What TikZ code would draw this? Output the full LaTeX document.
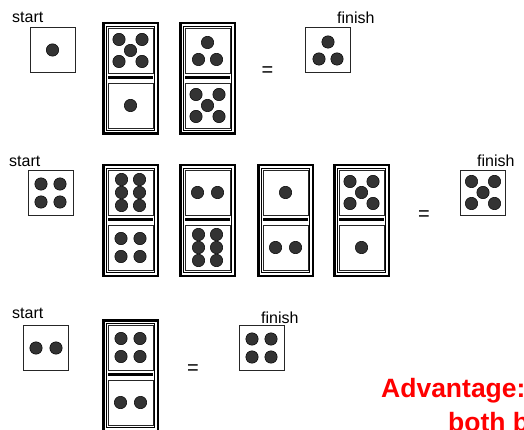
\documentclass[tikz,border=0pt]{standalone}
\usepackage{fontspec}
\setmainfont{Liberation Sans}
\definecolor{pipgray}{RGB}{51,51,51}
\definecolor{advred}{RGB}{255,0,0}
\tikzset{
  face/.style={draw=black!85, line width=0.9pt, minimum size=45pt, inner sep=0pt, fill=white},
  pip/.style={fill=pipgray, draw=black, line width=0.5pt},
  outerframe/.style={draw=black, line width=2.5pt},
  innerframe/.style={draw=black, line width=0.8pt},
  sepline/.style={draw=black, line width=2.2pt},
  lbl/.style={font=\fontsize{16}{18}\selectfont, inner sep=0pt, anchor=base west},
  eqsign/.style={font=\fontsize{20}{22}\selectfont, inner sep=0pt},
  adv/.style={font=\fontsize{26.5}{30}\selectfont\bfseries, text=advred, inner sep=0pt, anchor=base west},
}
\newcommand\dieface[4]{% name, cx, cy, pips
  \node[face] (#1) at (#2,#3) {};
  \begin{scope}[shift={(#1.center)}]
    \ifcase#4\or
      \path[pip] (0,0) circle[radius=6.2pt];
    \or
      \foreach \p in {(-10,0),(10,0)} \path[pip] \p circle[radius=6.2pt];
    \or
      \foreach \p in {(0,-8),(-9,9),(9,9)} \path[pip] \p circle[radius=6.2pt];
    \or
      \foreach \p in {(-9.5,-9),(9.5,-9),(-9.5,9),(9.5,9)} \path[pip] \p circle[radius=6.2pt];
    \or
      \foreach \p in {(-11.5,-11),(11.5,-11),(-11.5,11),(11.5,11),(0,0)} \path[pip] \p circle[radius=6.2pt];
    \or
      \foreach \p in {(-9,-13),(9,-13),(-9,0),(9,0),(-9,13),(9,13)} \path[pip] \p circle[radius=6.2pt];
    \fi
  \end{scope}}
\newcommand\domino[5]{% name, X, Y, top, bottom
  \path[outerframe] (#2+1.25,#3+1.25) rectangle (#2+55.75,#3+111.75);
  \path[innerframe] (#2+4.3,#3+4.3) rectangle (#2+52.7,#3+108.7);
  \dieface{#1t}{#2+28.5}{#3+28.5}{#4}
  \path[sepline] (#2+6,#3+55.5) -- (#2+51,#3+55.5);
  \dieface{#1b}{#2+28.5}{#3+83.5}{#5}}
\begin{document}
\begin{tikzpicture}[x=1pt,y=-1pt]
\useasboundingbox (0,0) rectangle (524,430);
\clip (0,0) rectangle (524,430);
% row 1
\node[lbl] (s1) at (12,23) {start};
\dieface{a0}{52.5}{50}{1}
\domino{a1}{102}{22}{5}{1}
\domino{a2}{179}{22}{3}{5}
\node[eqsign] (e1) at (267.5,72) {=};
\dieface{a3}{328}{50}{3}
\node[lbl] (f1) at (337,23.5) {finish};
% row 2
\node[lbl] (s2) at (9,167) {start};
\dieface{b0}{50.5}{193}{4}
\domino{b1}{102}{164}{6}{4}
\domino{b2}{179}{164}{2}{6}
\domino{b3}{257}{164}{1}{2}
\domino{b4}{333}{164}{5}{1}
\node[eqsign] (e2) at (424,216) {=};
\dieface{b5}{483}{192.5}{5}
\node[lbl] (f2) at (477,167) {finish};
% row 3
\node[lbl] (s3) at (12,318) {start};
\dieface{c0}{46}{348}{2}
\domino{c1}{102}{319}{4}{2}
\node[eqsign] (e3) at (193,370) {=};
\dieface{c2}{261.5}{348}{4}
\node[lbl] (f3) at (261,323) {finish};
% red text
\node[adv] (adv1) at (381,397.5) {Advantage:};
\node[adv] (adv2) at (448,431) {both b};
\end{tikzpicture}
\end{document}
